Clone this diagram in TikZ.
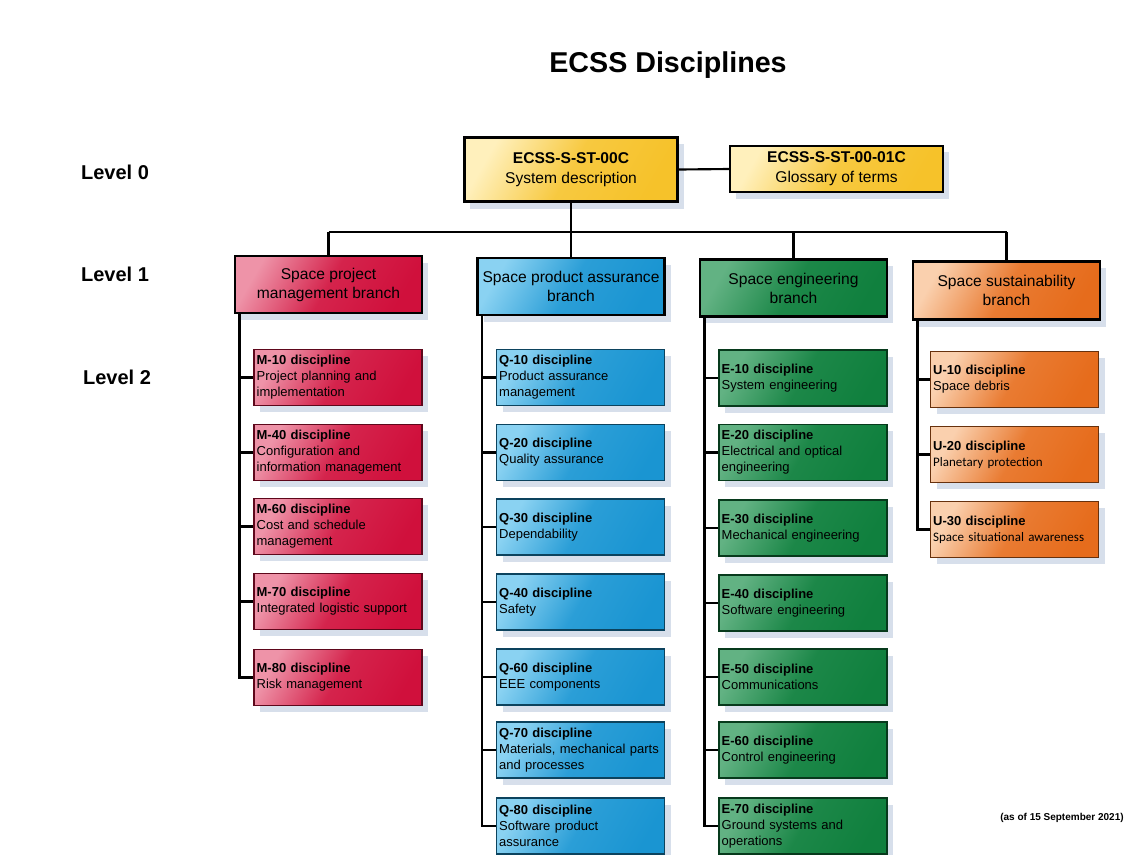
\documentclass[tikz,border=0pt]{standalone}
\usepackage{fontspec}
\setmainfont{Liberation Sans}
\newfontfamily\calib{Carlito}
\usetikzlibrary{shadows}

\definecolor{yelF}{HTML}{F6C22A}
\definecolor{yelL}{HTML}{FFF0BC}
\definecolor{redF}{HTML}{D0103C}
\definecolor{redL}{HTML}{EE93A8}
\definecolor{bluF}{HTML}{1A95D2}
\definecolor{bluL}{HTML}{8AD2F2}
\definecolor{grnF}{HTML}{10803E}
\definecolor{grnL}{HTML}{62B283}
\definecolor{orgF}{HTML}{E66C1C}
\definecolor{orgL}{HTML}{FAD0AE}
\definecolor{shadowc}{HTML}{D7DFEB}

\tikzset{
  fillgrad/.style n args={2}{left color=#1, right color=#2, middle color=#2!85!#1, shading angle=60},
  base/.style={rectangle, draw=black,
    drop shadow={fill=shadowc, opacity=1, shadow xshift=4.5pt, shadow yshift=-5pt}},
  titlef/.style={font=\fontsize{21.5}{24}\selectfont\bfseries},
  lvlf/.style={font=\fontsize{15}{18}\selectfont\bfseries},
  lvl0/.style={base, line width=2.2pt, align=center, inner sep=0pt,
    font=\fontsize{11.7}{15}\selectfont},
  lvl1/.style={base, line width=2.2pt, align=center, inner sep=0pt,
    minimum width=140.25pt, minimum height=42.75pt,
    font=\fontsize{11.7}{14.25}\selectfont},
  disc/.style={base, line width=0.8pt, text width=122pt, align=left,
    inner xsep=2pt, inner ysep=0pt, minimum height=42pt,
    font=\fontsize{9.75}{12}\selectfont},
  discM/.style={disc, fillgrad={redL}{redF}, draw=redF!45!black},
  discQ/.style={disc, fillgrad={bluL}{bluF}, draw=bluF!45!black},
  discE/.style={disc, fillgrad={grnL}{grnF}, draw=grnF!45!black},
  discU/.style={disc, fillgrad={orgL}{orgF}, draw=orgF!45!black},
  conn/.style={line width=1.6pt, black},
  datef/.style={font=\fontsize{7.5}{9}\selectfont\bfseries}
}

\begin{document}
\begin{tikzpicture}[x=0.75pt,y=-0.75pt]
\useasboundingbox (0,0) rectangle (1132,854);
\clip (0,0) rectangle (1132,854);
\fill[white] (0,0) rectangle (1132,854);

% title and level labels
\node[titlef] (title) at (668,65) {ECSS Disciplines};
\node[lvlf] (l0) at (115,172) {Level 0};
\node[lvlf] (l1) at (115,274) {Level 1};
\node[lvlf] (l2) at (117,377) {Level 2};

% level 0
\node[lvl0, fillgrad={yelL}{yelF}, minimum width=160pt, minimum height=48.5pt] (sys) at (571,169.5)
  {\textbf{ECSS-S-ST-00C}\\System description};
\node[lvl0, line width=1.5pt, fillgrad={yelL}{yelF}, minimum width=160pt, minimum height=35pt] (glos) at (836.5,169)
  {\textbf{ECSS-S-ST-00-01C}\\Glossary of terms};

% level 1
\node[lvl1, fillgrad={redL}{redF}] (pm) at (328.5,284.5) {Space project\\management branch};
\node[lvl1, fillgrad={bluL}{bluF}] (pa) at (571,286.5) {Space product assurance\\branch};
\node[lvl1, fillgrad={grnL}{grnF}] (eng) at (793.5,288) {Space engineering\\branch};
\node[lvl1, fillgrad={orgL}{orgF}, minimum height=44pt] (sus) at (1006.5,290.5) {Space sustainability\\branch};

% level 2 - M
\node[discM] (m10) at (338,377.5) {\textbf{M-10 discipline}\\Project planning and\\implementation};
\node[discM] (m40) at (338,452.5) {\textbf{M-40 discipline}\\Configuration and\\information management};
\node[discM] (m60) at (338,526.5) {\textbf{M-60 discipline}\\Cost and schedule\\management};
\node[discM] (m70) at (338,601.5) {\textbf{M-70 discipline}\\Integrated logistic support};
\node[discM] (m80) at (338,677.5) {\textbf{M-80 discipline}\\Risk management};

% level 2 - Q
\node[discQ] (q10) at (580.5,377.5) {\textbf{Q-10 discipline}\\Product assurance\\management};
\node[discQ] (q20) at (580.5,452.5) {\textbf{Q-20 discipline}\\Quality assurance};
\node[discQ] (q30) at (580.5,527) {\textbf{Q-30 discipline}\\Dependability};
\node[discQ] (q40) at (580.5,602) {\textbf{Q-40 discipline}\\Safety};
\node[discQ] (q60) at (580.5,677) {\textbf{Q-60 discipline}\\EEE components};
\node[discQ] (q70) at (580.5,750) {\textbf{Q-70 discipline}\\Materials, mechanical parts\\and processes};
\node[discQ] (q80) at (580.5,826) {\textbf{Q-80 discipline}\\Software product\\assurance};

% level 2 - E
\node[discE] (e10) at (803,378) {\textbf{E-10 discipline}\\System engineering};
\node[discE] (e20) at (803,452.5) {\textbf{E-20 discipline}\\Electrical and optical\\engineering};
\node[discE] (e30) at (803,528) {\textbf{E-30 discipline}\\Mechanical engineering};
\node[discE] (e40) at (803,603) {\textbf{E-40 discipline}\\Software engineering};
\node[discE] (e50) at (803,677) {\textbf{E-50 discipline}\\Communications};
\node[discE] (e60) at (803,750) {\textbf{E-60 discipline}\\Control engineering};
\node[discE] (e70) at (803,826) {\textbf{E-70 discipline}\\Ground systems and\\operations};

% level 2 - U
\node[discU] (u10) at (1014.5,379.5) {\textbf{U-10 discipline}\\Space debris};
\node[discU] (u20) at (1014.5,454.5) {\textbf{U-20 discipline}\\{\calib Planetary protection}};
\node[discU] (u30) at (1014.5,529.5) {\textbf{U-30 discipline}\\{\calib Space situational awareness}};

% connectors level 0 -> level 1
\coordinate (bus) at (571,232);
\draw[conn] (sys.east) -- (glos.west);
\draw[conn] (sys.south) -- (sys.south |- bus);
\draw[conn] (pm.north |- bus) -- (sus.north |- bus);
\foreach \b in {pm,pa,eng,sus} \draw[conn] (\b.north) -- (\b.north |- bus);

% trunks
\coordinate (pmT) at ([xshift=4.5pt]pm.south west);
\coordinate (paT) at ([xshift=4.5pt]pa.south west);
\coordinate (engT) at ([xshift=4.5pt]eng.south west);
\coordinate (susT) at ([xshift=4.5pt]sus.south west);

\draw[conn] (pmT) |- (m80.west);
\foreach \d in {m10,m40,m60,m70} \draw[conn] (pmT |- \d.west) -- (\d.west);
\draw[conn] (paT) |- (q80.west);
\foreach \d in {q10,q20,q30,q40,q60,q70} \draw[conn] (paT |- \d.west) -- (\d.west);
\draw[conn] (engT) |- (e70.west);
\foreach \d in {e10,e20,e30,e40,e50,e60} \draw[conn] (engT |- \d.west) -- (\d.west);
\draw[conn] (susT) |- (u30.west);
\foreach \d in {u10,u20} \draw[conn] (susT |- \d.west) -- (\d.west);

% date
\node[datef] (date) at (1062,818) {(as of 15 September 2021)};
\end{tikzpicture}
\end{document}
